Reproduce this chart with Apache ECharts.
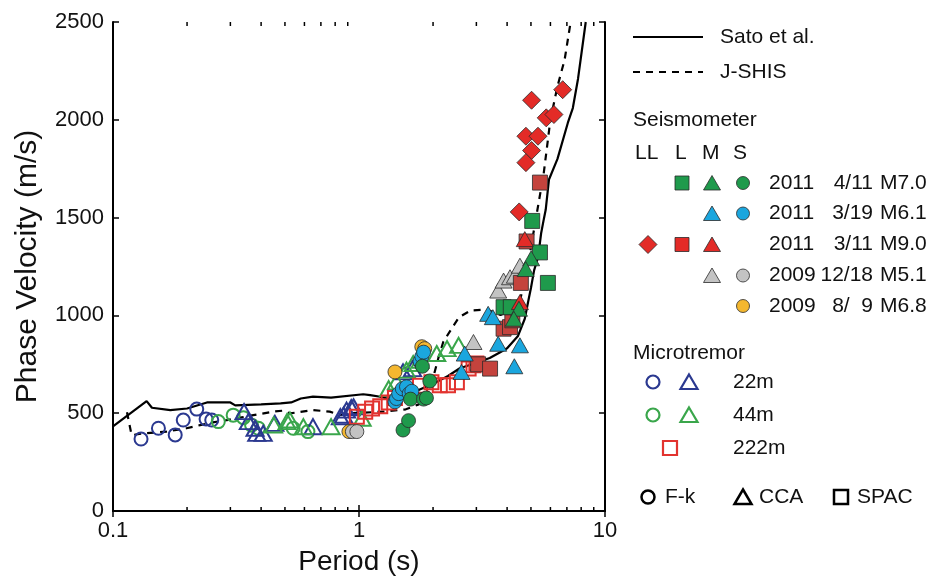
<!DOCTYPE html>
<html>
<head>
<meta charset="utf-8">
<script src="https://cdn.jsdelivr.net/npm/echarts@6/dist/echarts.min.js"></script>
<style>
  html, body { margin: 0; padding: 0; background: #fff; }
  #chart { width: 934px; height: 581px; }
</style>
</head>
<body>
<div id="chart"></div>
<script>
// dispersion curves  [period (s), phase velocity (m/s)]
var satoCurve = [[0.1,433],[0.137,562],[0.144,528],[0.171,516],[0.20,524],[0.241,555],[0.30,555],[0.314,540],
  [0.40,545],[0.48,550],[0.53,555],[0.58,575],[0.65,585],[0.77,580],[1.04,597],[1.11,592],[1.22,584],[1.30,575],
  [1.62,601],[2.0,650],[2.3,690],[2.57,730],[2.84,748],[3.4,782],[3.75,812],[4.0,832],[4.43,895],[4.72,983],
  [4.87,1070],[5.0,1140],[5.15,1230],[5.35,1300],[5.5,1420],[5.64,1492],[5.74,1540],[5.92,1695],[6.41,1800],
  [7.06,1984],[7.4,2060],[7.77,2210],[8.35,2500]];
var jshisCurve = [[0.114,505],[0.119,388],[0.133,397],[0.165,406],[0.199,423],[0.226,439],[0.255,453],[0.29,465],
  [0.328,477],[0.372,490],[0.448,508],[0.49,513],[0.524,499],[0.65,516],[0.76,508],[0.84,490],[0.89,499],
  [1.27,508],[1.55,520],[1.75,545],[1.9,600],[2.0,680],[2.1,780],[2.2,864],[2.4,940],[2.55,990],[2.84,1025],
  [3.3,1030],[3.76,1002],[4.2,1030],[4.53,1085],[4.8,1220],[5.15,1441],[5.64,1730],[6.0,2001],[6.41,2171],
  [6.85,2306],[7.25,2500]];

// microtremor
var mt22Fk = [[0.130,368],[0.153,423],[0.179,389],[0.193,465],[0.219,521],[0.239,470],[0.252,465]];
var mt22Cca = [[0.341,508],[0.355,457],[0.378,423],[0.384,397],[0.408,397],[0.455,448],[0.65,431],[0.84,482],
  [0.866,490],[0.89,516],[0.93,528],[0.95,533],[1.51,711],[1.65,728]];
var mt44Fk = [[0.268,457],[0.308,490],[0.339,477],[0.366,439],[0.390,423],[0.54,423],[0.62,406]];
var mt44Cca = [[0.45,440],[0.51,457],[0.524,465],[0.594,431],[0.77,431],[1.03,474],[1.32,626],[1.42,660],
  [1.56,720],[1.66,754],[1.77,770],[2.07,805],[2.28,830],[2.54,847]];
var mt222Spac = [[0.98,482],[1.06,508],[1.13,524],[1.22,535],[1.32,555],[1.40,578],[1.77,640],[1.97,658],
  [2.13,643],[2.30,643],[2.50,658],[2.79,728],[2.92,745],[3.0,754]];

// seismometer
var eqGreenSq = [[5.06,1483],[5.44,1322],[5.86,1166],[3.87,1042],[4.14,1042]];
var eqGreenTri = [[5.01,1292],[4.76,1237],[4.47,1034],[4.26,983]];
var eqGreenCir = [[1.51,414],[1.59,462],[1.62,572],[1.83,572],[1.88,578],[1.94,665],[1.81,740]];
var eqBlueTri = [[2.61,711],[2.69,805],[3.68,855],[4.51,847],[4.28,740],[3.35,1008],[3.50,991]];
var eqBlueCir = [[1.40,558],[1.42,575],[1.45,600],[1.50,625],[1.56,635],[1.60,600],[1.64,612],[1.77,765],
  [1.80,790],[1.83,812]];
var eqRedDia = [[5.03,2100],[6.73,2154],[5.77,2010],[6.2,2027],[4.77,1916],[5.34,1916],[5.03,1843],
  [4.77,1781],[4.48,1529]];
var eqRedSq = [[5.44,1679],[4.80,1378],[4.55,1166],[3.87,932],[4.11,940],[4.20,975],[3.05,750],[3.41,728]];
var eqRedTri = [[4.72,1390],[4.51,1068]];
var eqGrayTri = [[2.92,864],[3.68,1127],[3.87,1178],[4.11,1195],[4.30,1203],[4.51,1254]];
var eqGrayCir = [[0.94,406],[0.98,406]];
var eqYellowCir = [[0.91,406],[1.40,711],[1.80,840],[1.85,830]];

var minorTicks = [0.2,0.3,0.4,0.5,0.6,0.7,0.8,0.9,2,3,4,5,6,7,8,9];

var FONT = 'Liberation Sans, Arial, Helvetica, sans-serif';
var C = {
  navy: '#2b3990', greenO: '#3aa64b', redO: '#e2332f',
  green: '#1f9a4c', blue: '#1ba6de', red: '#e32b27', redSq: '#c4433d',
  gray: '#c3c3c3', yellow: '#f4b72f', edge: '#2a2a2a'
};
var TRI = [17, 15];

function openMark(name, data, symbol, size, color) {
  return { type: 'scatter', name: name, data: data, symbol: symbol, symbolSize: size,
    itemStyle: { color: 'rgba(0,0,0,0)', borderColor: color, borderWidth: 2, opacity: 1 }, z: 3 };
}
function fillMark(name, data, symbol, size, color) {
  return { type: 'scatter', name: name, data: data, symbol: symbol, symbolSize: size,
    itemStyle: { color: color, borderColor: C.edge, borderWidth: 0.8, opacity: 1 }, z: 4 };
}

// legend pieces (drawn as graphics)
function txt(s, x, y, align) {
  return { type: 'text', style: { text: s, x: x, y: y, fill: '#111', fontSize: 21, fontFamily: FONT,
    align: align || 'left', verticalAlign: 'middle' } };
}
function sym(kind, x, y, fill, stroke, lw) {
  var st = { fill: fill, stroke: stroke, lineWidth: lw };
  if (kind === 'circle') return { type: 'circle', shape: { cx: x, cy: y, r: 6.5 }, style: st };
  if (kind === 'rect') return { type: 'rect', shape: { x: x - 7, y: y - 7, width: 14, height: 14 }, style: st };
  if (kind === 'tri') return { type: 'polygon', shape: { points: [[x, y - 7.5], [x + 8.5, y + 7], [x - 8.5, y + 7]] }, style: st };
  return { type: 'polygon', shape: { points: [[x, y - 9], [x + 9, y], [x, y + 9], [x - 9, y]] }, style: st };
}
var E = C.edge, N = 'rgba(0,0,0,0)';
var rows = [183, 213.5, 244.5, 275.5, 306];
var legend = [
  { type: 'line', shape: { x1: 633, y1: 37, x2: 703, y2: 37 }, style: { stroke: '#000', lineWidth: 2.2 } },
  txt('Sato et al.', 720, 37),
  { type: 'line', shape: { x1: 633, y1: 72, x2: 703, y2: 72 }, style: { stroke: '#000', lineWidth: 2.2, lineDash: [7, 6] } },
  txt('J-SHIS', 720, 72),
  txt('Seismometer', 633, 120),
  txt('LL', 635, 153), txt('L', 675, 153), txt('M', 702, 153), txt('S', 733, 153),
  sym('rect', 682, rows[0], C.green, E, 0.8), sym('tri', 712, rows[0], C.green, E, 0.8), sym('circle', 743, rows[0], C.green, E, 0.8),
  sym('tri', 712, rows[1], C.blue, E, 0.8), sym('circle', 743, rows[1], C.blue, E, 0.8),
  sym('dia', 648, rows[2], C.red, E, 0.8), sym('rect', 682, rows[2], C.red, E, 0.8), sym('tri', 712, rows[2], C.red, E, 0.8),
  sym('tri', 712, rows[3], C.gray, E, 0.8), sym('circle', 743, rows[3], C.gray, E, 0.8),
  sym('circle', 743, rows[4], C.yellow, E, 0.8),
  txt('2011', 769, rows[0]), txt('4/11', 873, rows[0], 'right'), txt('M7.0', 880, rows[0]),
  txt('2011', 769, rows[1]), txt('3/19', 873, rows[1], 'right'), txt('M6.1', 880, rows[1]),
  txt('2011', 769, rows[2]), txt('3/11', 873, rows[2], 'right'), txt('M9.0', 880, rows[2]),
  txt('2009', 769, rows[3]), txt('12/18', 873, rows[3], 'right'), txt('M5.1', 880, rows[3]),
  txt('2009', 769, rows[4]), txt('8/  9', 873, rows[4], 'right'), txt('M6.8', 880, rows[4]),
  txt('Microtremor', 633, 353),
  sym('circle', 653, 382, N, C.navy, 2.2), sym('tri', 689, 382, N, C.navy, 2.2), txt('22m', 733, 382),
  sym('circle', 653, 415, N, C.greenO, 2.2), sym('tri', 689, 415, N, C.greenO, 2.2), txt('44m', 733, 415),
  sym('rect', 670, 448, N, C.redO, 2.2), txt('222m', 733, 448),
  sym('circle', 648, 497, N, '#000', 2.5), txt('F-k', 665, 497),
  sym('tri', 743, 497, N, '#000', 2.5), txt('CCA', 759, 497),
  sym('rect', 841, 497, N, '#000', 2.5), txt('SPAC', 857, 497)
];

var chart = echarts.init(document.getElementById('chart'), null, { renderer: 'canvas' });

var axisLineStyle = { color: '#000', width: 2 };
var tickStyle = { inside: true, length: 6, lineStyle: { width: 1.5, color: '#000' } };
var option = {
  animation: false,
  backgroundColor: '#fff',
  textStyle: { fontFamily: FONT },
  grid: { left: 113, right: 329, top: 22, bottom: 68 },
  xAxis: [{
    type: 'log', logBase: 10, min: 0.1, max: 10,
    name: 'Period (s)', nameLocation: 'middle', nameGap: 37,
    nameTextStyle: { fontSize: 28, color: '#111', fontFamily: FONT },
    axisLine: { lineStyle: axisLineStyle },
    axisTick: tickStyle,
    axisLabel: { fontSize: 22, color: '#111', margin: 9, fontFamily: FONT,
      formatter: function (v) { return String(Math.round(v * 10) / 10); } },
    splitLine: { show: false }
  }, {
    type: 'log', logBase: 10, min: 0.1, max: 10, position: 'top',
    axisLine: { lineStyle: axisLineStyle },
    axisTick: tickStyle,
    axisLabel: { show: false }, splitLine: { show: false }
  }],
  yAxis: [{
    type: 'value', min: 0, max: 2500, interval: 500,
    name: 'Phase Velocity (m/s)', nameLocation: 'middle', nameGap: 70,
    nameTextStyle: { fontSize: 30, color: '#111', fontFamily: FONT },
    axisLine: { show: true, lineStyle: axisLineStyle },
    axisTick: Object.assign({ show: true }, tickStyle),
    axisLabel: { fontSize: 22, color: '#111', margin: 9, fontFamily: FONT,
      formatter: function (v) { return String(v); } },
    splitLine: { show: false }
  }, {
    type: 'value', min: 0, max: 2500, interval: 500, position: 'right',
    axisLine: { show: true, lineStyle: axisLineStyle },
    axisTick: Object.assign({ show: true }, tickStyle),
    axisLabel: { show: false }, splitLine: { show: false }
  }],
  graphic: legend,
  series: [
    {
      type: 'custom', name: 'minor ticks', xAxisIndex: 0, yAxisIndex: 0,
      data: minorTicks.map(function (t) { return [t, 0]; }),
      renderItem: function (params, api) {
        var b = api.coord([api.value(0), 0]);
        var t = api.coord([api.value(0), 2500]);
        var s = { stroke: '#000', lineWidth: 1.5 };
        return { type: 'group', children: [
          { type: 'line', shape: { x1: b[0], y1: b[1], x2: b[0], y2: b[1] - 4 }, style: s },
          { type: 'line', shape: { x1: t[0], y1: t[1], x2: t[0], y2: t[1] + 4 }, style: s }
        ] };
      },
      z: 5, silent: true
    },
    { type: 'line', name: 'Sato et al.', data: satoCurve, showSymbol: false, symbol: 'none',
      lineStyle: { color: '#000', width: 2.2 }, z: 2 },
    { type: 'line', name: 'J-SHIS', data: jshisCurve, showSymbol: false, symbol: 'none',
      lineStyle: { color: '#000', width: 2.2, type: [7, 6] }, z: 2 },
    openMark('22m F-k', mt22Fk, 'circle', 13, C.navy),
    openMark('44m F-k', mt44Fk, 'circle', 13, C.greenO),
    openMark('22m CCA', mt22Cca, 'triangle', TRI, C.navy),
    openMark('44m CCA', mt44Cca, 'triangle', TRI, C.greenO),
    openMark('222m SPAC', mt222Spac, 'rect', 14, C.redO),
    fillMark('2009 8/9 S', eqYellowCir, 'circle', 14, C.yellow),
    fillMark('2009 12/18 S', eqGrayCir, 'circle', 14, C.gray),
    fillMark('2009 12/18 M', eqGrayTri, 'triangle', TRI, C.gray),
    fillMark('2011 3/19 S', eqBlueCir, 'circle', 14, C.blue),
    fillMark('2011 4/11 S', eqGreenCir, 'circle', 14, C.green),
    fillMark('2011 3/11 L', eqRedSq, 'rect', 15, C.redSq),
    fillMark('2011 4/11 L', eqGreenSq, 'rect', 15, C.green),
    fillMark('2011 3/19 M', eqBlueTri, 'triangle', TRI, C.blue),
    fillMark('2011 3/11 M', eqRedTri, 'triangle', TRI, C.red),
    fillMark('2011 4/11 M', eqGreenTri, 'triangle', TRI, C.green),
    fillMark('2011 3/11 LL', eqRedDia, 'diamond', 18, C.red)
  ]
};
chart.setOption(option);
</script>
</body>
</html>
